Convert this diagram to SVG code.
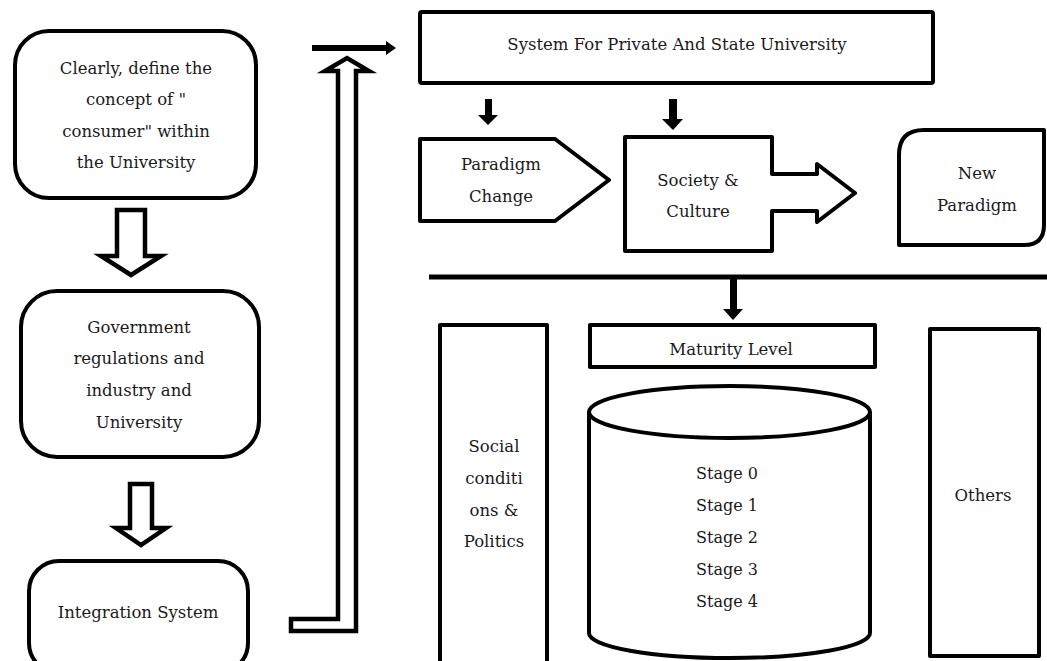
<svg xmlns="http://www.w3.org/2000/svg" width="1047" height="661" viewBox="0 0 1047 661">
  <style>
    .shape { fill: #ffffff; stroke: #000000; stroke-width: 4; stroke-linejoin: round; }
    .hollow { fill: #ffffff; stroke: #000000; stroke-width: 4.5; stroke-linejoin: miter; }
    .solid { fill: #000000; stroke: none; }
    .bar { stroke: #000000; stroke-width: 5; fill: none; }
    text { font-family: "DejaVu Serif", "Liberation Serif", serif; font-size: 16.5px; fill: #1a1a1a; text-anchor: middle; }
    .stage { font-size: 16px; }
  </style>
  <rect width="1047" height="661" fill="#ffffff"/>

  <g id="connectors">
    <path class="hollow" d="M117,210 L145,210 L145,256 L161,256 L131,275 L101,256 L117,256 Z"/>
    <path class="hollow" d="M130,484 L152,484 L152,528 L166,528 L141,545 L116,528 L130,528 Z"/>
    <path class="hollow" d="M291,619 L338,619 L338,71 L325,71 L347,58 L369,71 L356,71 L356,631 L291,631 Z"/>
    <path class="solid" d="M312,45 L386,45 L386,41 L396,48 L386,55 L386,51 L312,51 Z"/>
    <path class="solid" d="M485,99 L492,99 L492,115 L498,115 L488,125 L478,115 L485,115 Z"/>
    <path class="solid" d="M669,99 L677,99 L677,119 L683,119 L673,130 L662,119 L669,119 Z"/>
    <line class="bar" x1="429" y1="277" x2="1047" y2="277"/>
    <path class="solid" d="M730,277 L737,277 L737,309 L743,309 L733,320 L723,309 L730,309 Z"/>
  </g>

  <g id="node-consumer">
    <rect class="shape" x="15" y="31" width="241" height="167" rx="34" ry="34"/>
    <text x="136" y="74">Clearly, define the</text>
    <text x="136" y="105">concept of "</text>
    <text x="136" y="137">consumer" within</text>
    <text x="136" y="168">the University</text>
  </g>

  <g id="node-government">
    <rect class="shape" x="21" y="291" width="238" height="166" rx="36" ry="36"/>
    <text x="139" y="333">Government</text>
    <text x="139" y="364">regulations and</text>
    <text x="139" y="396">industry and</text>
    <text x="139" y="428">University</text>
  </g>

  <g id="node-integration">
    <rect class="shape" x="29" y="561" width="219" height="112" rx="30" ry="30"/>
    <text x="138" y="618">Integration System</text>
  </g>

  <g id="node-system">
    <rect class="shape" x="420" y="12" width="513" height="71" rx="2" ry="2"/>
    <text x="677" y="50">System For Private And State University</text>
  </g>

  <g id="node-paradigm-change">
    <path class="shape" d="M420,139 L555,139 L609,180 L555,221 L420,221 Z"/>
    <text x="501" y="170">Paradigm</text>
    <text x="501" y="202">Change</text>
  </g>

  <g id="node-society">
    <path class="shape" d="M625,137 L772,137 L772,174 L817,174 L817,164 L855,193 L817,222 L817,211 L772,211 L772,251 L625,251 Z"/>
    <text x="698" y="186">Society &amp;</text>
    <text x="698" y="217">Culture</text>
  </g>

  <g id="node-new-paradigm">
    <path class="shape" d="M899,245 L899,155 Q899,130 924,130 L1044,130 L1044,225 Q1044,245 1024,245 Z"/>
    <text x="977" y="179">New</text>
    <text x="977" y="211">Paradigm</text>
  </g>

  <g id="node-social">
    <rect class="shape" x="440" y="325" width="107" height="342"/>
    <text x="494" y="452">Social</text>
    <text x="494" y="484">conditi</text>
    <text x="494" y="516">ons &amp;</text>
    <text x="494" y="547">Politics</text>
  </g>

  <g id="node-maturity">
    <rect class="shape" x="590" y="325" width="285" height="42"/>
    <text x="731" y="355">Maturity Level</text>
  </g>

  <g id="node-stages">
    <path class="shape" d="M589,412 L589,633 A140.5,25 0 0 0 870,633 L870,412"/>
    <ellipse class="shape" cx="729.5" cy="412" rx="140.5" ry="26"/>
    <text class="stage" x="727" y="479">Stage 0</text>
    <text class="stage" x="727" y="511">Stage 1</text>
    <text class="stage" x="727" y="543">Stage 2</text>
    <text class="stage" x="727" y="575">Stage 3</text>
    <text class="stage" x="727" y="607">Stage 4</text>
  </g>

  <g id="node-others">
    <rect class="shape" x="930" y="329" width="109" height="327"/>
    <text x="983" y="501">Others</text>
  </g>
</svg>
